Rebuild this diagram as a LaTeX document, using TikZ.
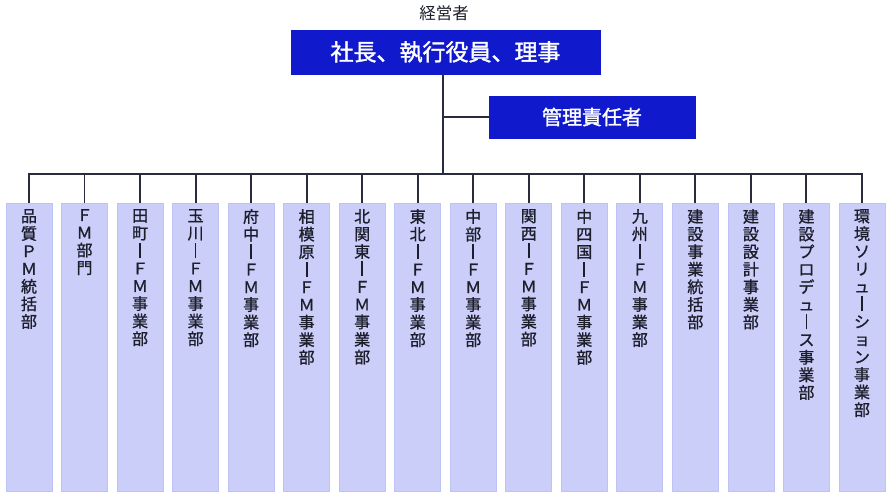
\documentclass[tikz,border=0pt]{standalone}
\usepackage{fontspec}
\setmainfont{Noto Sans CJK JP}
\newfontfamily\heavyfont[FakeBold=1.6]{Noto Sans CJK JP}
\newfontfamily\midfont[FakeBold=1.0]{Noto Sans CJK JP}
\definecolor{headblue}{RGB}{16,26,204}
\definecolor{colfill}{RGB}{203,206,248}
\definecolor{coledge}{RGB}{190,195,246}
\definecolor{linkcol}{RGB}{40,44,62}
\definecolor{inkcol}{RGB}{28,30,44}
% vertical prolonged-sound mark
\newcommand{\vbar}{\rule[-1.2pt]{1.8pt}{15pt}}
% stack the characters of a label top to bottom
\ExplSyntaxOn
\NewDocumentCommand{\vstack}{m}{
  \vbox{\baselineskip=17.6pt \lineskiplimit=-20pt
    \tl_map_inline:nn {#1} { \hbox to 20pt {\hss ##1 \hss} }
  }
}
\ExplSyntaxOff
\begin{document}
\begin{tikzpicture}[x=1pt,y=-1pt,
  headbox/.style={draw=headblue,fill=headblue,text=white,inner sep=0pt},
  deptbox/.style={draw=coledge,fill=colfill,line width=0.8pt,minimum width=46pt,minimum height=288pt,inner sep=0pt,anchor=north},
  depttext/.style={anchor=north,inner sep=0pt,text=inkcol,font=\midfont\fontsize{16}{17.6}\selectfont},
  link/.style={draw=linkcol,line width=1.9pt}]
\useasboundingbox (0,0) rectangle (890,499);

\node[text=inkcol,font=\fontsize{16.5}{18}\selectfont] (owner) at (444,13) {経営者};
\node[headbox,minimum width=309pt,minimum height=44pt,font=\heavyfont\fontsize{23}{25}\selectfont] (top) at (445.5,52) {社長、執行役員、理事};
\node[headbox,minimum width=206pt,minimum height=42pt,font=\heavyfont\fontsize{20}{22}\selectfont] (mgr) at (592,117) {管理責任者};

\coordinate (hub) at (443,174);
\coordinate (busL) at (29,174);
\coordinate (busR) at (862,174);
\coordinate (trunk) at (443,74);

\foreach \i/\lab in {0/{品質ＰＭ統括部},1/{ＦＭ部門},2/{田町\vbar ＦＭ事業部},3/{玉川\vbar ＦＭ事業部},
  4/{府中\vbar ＦＭ事業部},5/{相模原\vbar ＦＭ事業部},6/{北関東\vbar ＦＭ事業部},7/{東北\vbar ＦＭ事業部},
  8/{中部\vbar ＦＭ事業部},9/{関西\vbar ＦＭ事業部},10/{中四国\vbar ＦＭ事業部},11/{九州\vbar ＦＭ事業部},
  12/{建設事業統括部},13/{建設設計事業部},14/{建設プロデュ\vbar ス事業部},15/{環境ソリュ\vbar ション事業部}}{
  \node[deptbox] (d\i) at ({29+\i*55.53},203) {};
  \node[depttext] (t\i) at ({29+\i*55.53},209) {\expandafter\vstack\expandafter{\lab}};
}

\draw[link] (trunk) -- (hub);
\draw[link] (trunk |- mgr.west) -- (mgr.west);
\draw[link,line cap=rect] (busL) -- (busR);
\foreach \i in {0,...,15}{
  \draw[link] (d\i.north |- hub) -- (d\i.north);
}
\end{tikzpicture}
\end{document}
